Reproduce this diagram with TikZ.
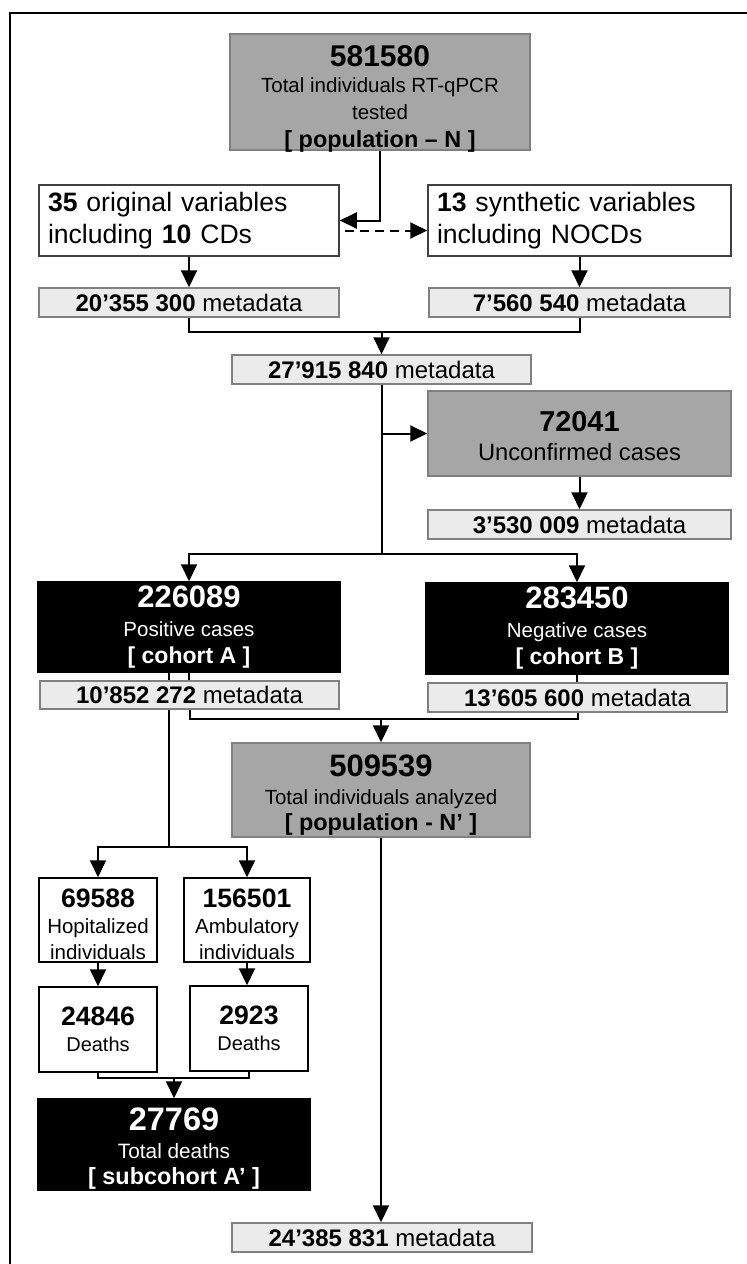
\documentclass[tikz,border=0pt]{standalone}
\usepackage{fontspec}
\setmainfont{Liberation Sans}
\usetikzlibrary{arrows.meta}
\definecolor{boxgray}{HTML}{A6A6A6}
\definecolor{metagray}{HTML}{EBEBEB}
\definecolor{edgegray}{HTML}{808080}
\newcommand{\fs}[2]{\fontsize{#1}{#2}\selectfont
  \spaceskip=\fontdimen2\font\xspaceskip=\fontdimen2\font\relax}

\begin{document}
\begin{tikzpicture}[x=1pt,y=-1pt,line join=miter,
>={Triangle[length=17pt,width=16pt]},
grayblock/.style={draw=edgegray,line width=1.5pt,fill=boxgray,inner sep=0pt,align=center},
darkblock/.style={draw=black,line width=1.5pt,fill=black,text=white,inner sep=0pt,align=center},
whiteblock/.style={draw=black,line width=1.5pt,fill=white,inner sep=0pt,align=center},
varblock/.style={draw=black!75,line width=1.5pt,fill=white,inner xsep=9pt,inner ysep=0pt,
  align=left,text width=282pt,minimum height=71pt,font=\fs{26.6}{32}},
metablock/.style={draw=edgegray,line width=1.5pt,fill=metagray,inner sep=0pt,
  minimum height=29pt,font=\fs{24}{28}},
tshift/.style={execute at end node={\endgraf\kern-#1\relax}},
conn/.style={line width=2pt},
arr/.style={conn,->}]
\useasboundingbox (0,0) rectangle (747,1264);
% khung
\draw[line width=2pt] (9.5,1264) -- (9.5,13) -- (747,13);
% cac hop
\node[grayblock,text width=300pt,minimum height=116pt,tshift=13pt] (pop) at (380,92)
{{\fs{30}{30}\bfseries 581580\par}{\fs{20.5}{26.5}Total individuals RT-qPCR\\tested\par}{\fs{23.4}{28}\bfseries [ population – N ]\par}};
\node[varblock] (orig) at (189,220.5) {\textbf{35} original variables\\including \textbf{10} CDs};
\node[varblock,text width=285pt] (synth) at (579.5,220.5) {\textbf{13} synthetic variables\\including NOCDs};
\node[metablock,minimum width=300pt] (m1) at (189,302.5) {\textbf{20’355 300} metadata};
\node[metablock,minimum width=301pt] (m2) at (579.5,302.5) {\textbf{7’560 540} metadata};
\node[metablock,minimum width=299pt] (m3) at (381.5,369.5) {\textbf{27’915 840} metadata};
\node[grayblock,text width=303pt,minimum height=85pt,tshift=5pt] (unconf) at (579.5,433.5)
{{\fs{28.8}{30}\bfseries 72041\par}{\fs{23.7}{29}Unconfirmed cases\par}};
\node[metablock,minimum width=303pt] (m4) at (579.5,524.5) {\textbf{3’530 009} metadata};
\node[darkblock,text width=302pt,minimum height=90pt] (pos) at (189,627)
{{\fs{31}{31}\bfseries 226089\par}{\fs{20.5}{29}Positive cases\par}{\fs{23}{27}\bfseries [ cohort A ]\par}};
\node[darkblock,text width=302pt,minimum height=91pt] (neg) at (577,628.5)
{{\fs{31}{31}\bfseries 283450\par}{\fs{20.5}{29}Negative cases\par}{\fs{23}{27}\bfseries [ cohort B ]\par}};
\node[metablock,minimum width=299pt,minimum height=28pt] (m5) at (189.5,695) {\textbf{10’852 272} metadata};
\node[metablock,minimum width=299pt] (m6) at (577.5,697.5) {\textbf{13’605 600} metadata};
\node[grayblock,text width=298pt,minimum height=94pt,tshift=10pt] (anal) at (381,790)
{{\fs{31}{31}\bfseries 509539\par}{\fs{20.5}{28}Total individuals analyzed\par}{\fs{23.4}{26}\bfseries [ population - N’ ]\par}};
\node[whiteblock,text width=118pt,minimum height=84pt,tshift=8pt] (hosp) at (98,920)
{{\fs{26.6}{27}\bfseries 69588\par}{\fs{20.5}{26}Hopitalized\\individuals\par}};
\node[whiteblock,text width=126pt,minimum height=84pt,tshift=8pt] (amb) at (247,920)
{{\fs{26.6}{27}\bfseries 156501\par}{\fs{20.5}{26}Ambulatory\\individuals\par}};
\node[whiteblock,text width=118pt,minimum height=85pt] (dh) at (98,1029.5)
{{\fs{26.6}{27}\bfseries 24846\par}{\fs{20}{26}Deaths\par}};
\node[whiteblock,text width=118pt,minimum height=85pt] (da) at (249,1028.5)
{{\fs{26.6}{27}\bfseries 2923\par}{\fs{20}{26}Deaths\par}};
\node[darkblock,text width=272pt,minimum height=91pt,tshift=8pt] (dt) at (174,1144.5)
{{\fs{32.5}{32}\bfseries 27769\par}{\fs{20.8}{28}Total deaths\par}{\fs{23.4}{26}\bfseries [ subcohort A’ ]\par}};
\node[metablock,minimum width=300pt] (m7) at (382,1237.5) {\textbf{24’385 831} metadata};
% cac diem noi
\coordinate (j1) at (381.5,331);
\coordinate (j2) at (381.5,554);
\coordinate (j3) at (381,718);
\coordinate (j4) at (169,847);
\coordinate (j5) at (174,1077);
% cac mui ten
\draw[arr] (pop.south) |- (orig.east);
\draw[arr,dash pattern=on 9pt off 6pt,shorten <=5pt]
([yshift=-10pt]orig.east) -- ([yshift=-10pt]synth.west);
\draw[arr] (orig) -- (m1);
\draw[arr] (synth) -- (m2);
\draw[conn] (m1.south) -- ++(0,14) -| (m2.south);
\draw[arr] (j1) -- (m3.north);
\draw[conn] (m3.south) -- (j2);
\draw[arr] (m3.south |- unconf.west) -- (unconf.west);
\draw[arr] (unconf) -- (m4);
\draw[arr] (j2) -| (pos.north);
\draw[arr] (j2) -| (neg.north);
\draw[conn] ([xshift=-20pt]pos.south) -- ([xshift=-20pt]pos.south |- m5.north);
\draw[conn] (pos.south) -- (pos.south |- m5.north);
\draw[conn] (neg.south) -- (neg.south |- m6.north);
\draw[conn] (m5.south) -- ++(0,9) -| (m6.south);
\draw[arr] (j3) -- (anal.north);
\draw[conn] (j4 |- m5.south) -- (j4);
\draw[arr] (j4) -| (hosp.north);
\draw[arr] (j4) -| (amb.north);
\draw[arr] (hosp) -- (dh);
\draw[arr] (amb.south) -- (amb.south |- da.north);
\draw[conn] (dh.south) -- ++(0,5) -| (da.south);
\draw[arr] (j5) -- (dt.north);
\draw[arr] (anal.south) -- (anal.south |- m7.north);
\end{tikzpicture}
\end{document}
